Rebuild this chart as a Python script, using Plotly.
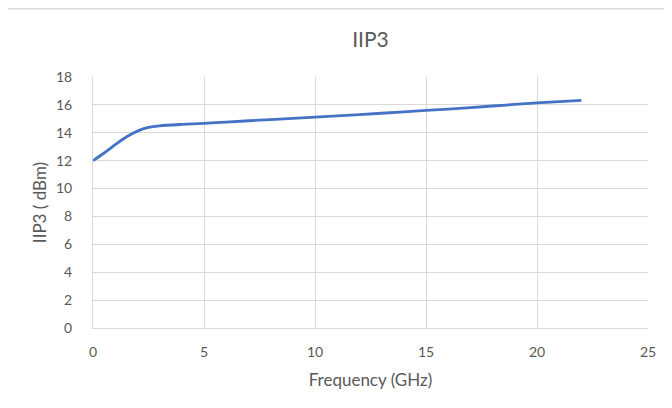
import plotly.graph_objects as go

freq_ghz = [0, 0.5, 1.0, 1.5, 2.0, 2.5, 3.0, 4.0, 5.0, 6.0, 8.0, 10.0, 12.0, 14.0, 16.0, 18.0, 20.0, 22.0]
iip3_dbm = [12.0, 12.55, 13.15, 13.7, 14.12, 14.38, 14.5, 14.6, 14.68, 14.77, 14.95, 15.12, 15.3, 15.5, 15.7, 15.92, 16.14, 16.32]

x_ticks = [0, 5, 10, 15, 20, 25]
y_ticks = [0, 2, 4, 6, 8, 10, 12, 14, 16, 18]

FONT = "Lato, Open Sans, sans-serif"
GRAY = "#595959"
GRID = "#d9d9d9"

W, H = 672, 408
L, R, T, B = 85, 32, 69, 88
PW, PH = W - L - R, H - T - B

fig = go.Figure()
fig.add_trace(go.Scatter(
    x=freq_ghz, y=iip3_dbm, mode="lines",
    line=dict(color="#4472C4", width=2.8, shape="spline", smoothing=0.6),
    showlegend=False, hoverinfo="skip",
))

fig.update_layout(
    width=W, height=H,
    margin=dict(l=L, r=R, t=T, b=B),
    paper_bgcolor="white", plot_bgcolor="white",
    font=dict(family=FONT, color=GRAY, size=14),
    title=dict(text="IIP3", x=0.5, xref="paper", y=1 - 32 / H, yanchor="middle",
               font=dict(family=FONT, size=21, color=GRAY)),
    xaxis=dict(range=[0, 25], tickvals=x_ticks, showgrid=True, gridcolor=GRID, gridwidth=1,
               zeroline=False, showline=True, linecolor=GRID, linewidth=1,
               ticklabelstandoff=11,
               tickfont=dict(size=14, color=GRAY),
               title=dict(text="Frequency (GHz)", font=dict(size=17, color=GRAY), standoff=15)),
    yaxis=dict(range=[0, 18], tickvals=y_ticks, showgrid=True, gridcolor=GRID, gridwidth=1,
               zeroline=False, showline=True, linecolor=GRID, linewidth=1,
               ticklabelstandoff=17,
               tickfont=dict(size=14, color=GRAY),
               title=dict(text="IIP3 ( dBm)", font=dict(size=17, color=GRAY), standoff=5)),
)

# chart-area border like Excel
fig.add_shape(type="rect", xref="paper", yref="paper",
              x0=-L / PW - 0.01, x1=1.2, y0=-0.5, y1=(H - B - 0.8) / PH,
              line=dict(color="#d9d9d9", width=1.5), fillcolor="rgba(0,0,0,0)", layer="below")

fig.write_html("out.html")
